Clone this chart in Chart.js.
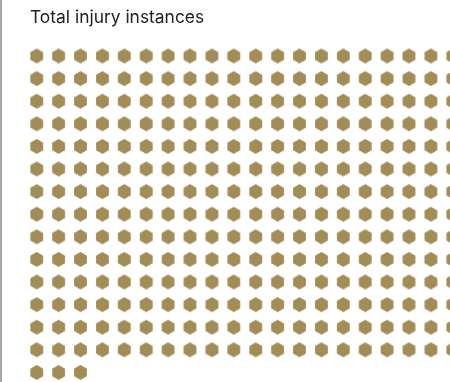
<!DOCTYPE html>
<html>
<head>
<meta charset="utf-8">
<script src="https://cdn.jsdelivr.net/npm/chart.js@4"></script>
<style>
  html, body { margin: 0; padding: 0; background: #fff; }
  #wrap { position: relative; width: 450px; height: 382px; overflow: hidden; }
  #line { position: absolute; left: 0; top: 0; width: 2px; height: 382px; background: #a6a6a6; }
  #title { position: absolute; left: 30px; top: 6px; font-family: Inter, "Noto Sans", sans-serif; font-size: 17.4px; color: #222; white-space: nowrap; }
  canvas { position: absolute; left: 0; top: 0; }
</style>
</head>
<body>
<div id="wrap">
  <canvas id="c" width="450" height="382"></canvas>
  <div id="line"></div>
  <div id="title"></div>
</div>
<script>
const titles = ["Total injury instances"];
const values = [283];
const perRow = [20];
const colors = ["#a38d56"];

document.getElementById('title').textContent = titles[0];

// hexagon marker (pointy top)
function hexImage(r, color) {
  const w = Math.ceil(Math.sqrt(3) * r) + 2, h = Math.ceil(2 * r) + 2;
  const cv = document.createElement('canvas');
  cv.width = w; cv.height = h;
  const g = cv.getContext('2d');
  g.fillStyle = color;
  g.beginPath();
  for (let k = 0; k < 6; k++) {
    const a = Math.PI / 180 * (60 * k - 90);
    const px = w / 2 + r * Math.cos(a), py = h / 2 + r * Math.sin(a);
    if (k === 0) g.moveTo(px, py); else g.lineTo(px, py);
  }
  g.closePath();
  g.fill();
  return cv;
}

const points = [];
for (let i = 0; i < values[0]; i++) {
  points.push({ x: i % perRow[0], y: Math.floor(i / perRow[0]) });
}

const colSp = 21.9, rowSp = 22.6, x0 = 36.7, y0 = 56;
const xMin = -x0 / colSp, xMax = xMin + 450 / colSp;
const yMin = -y0 / rowSp, yMax = yMin + 382 / rowSp;

new Chart(document.getElementById('c'), {
  type: 'scatter',
  data: {
    datasets: [{
      label: titles[0],
      data: points,
      pointStyle: hexImage(7.4, colors[0]),
      pointRadius: 7,
      pointHoverRadius: 7,
      clip: false
    }]
  },
  options: {
    responsive: false,
    animation: false,
    layout: { padding: 0, autoPadding: false },
    plugins: { legend: { display: false }, tooltip: { enabled: false }, title: { display: false } },
    scales: {
      x: { type: 'linear', display: false, min: xMin, max: xMax },
      y: { type: 'linear', display: false, min: yMin, max: yMax, reverse: true }
    }
  }
});
</script>
</body>
</html>
